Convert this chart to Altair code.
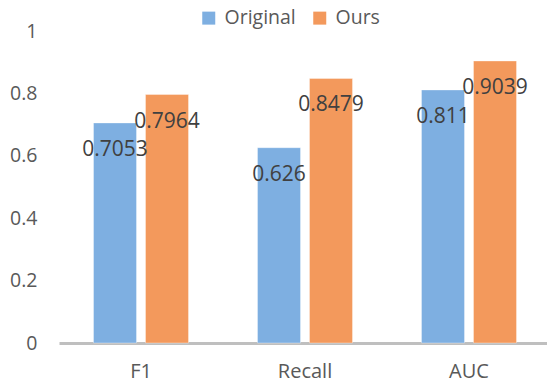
import altair as alt
import pandas as pd

# Scores per metric for the two methods
metrics = ["F1", "Recall", "AUC"]
series = ["Original", "Ours"]
original = [0.7053, 0.626, 0.811]
ours = [0.7964, 0.8479, 0.9039]
original_labels = ["0.7053", "0.626", "0.811"]
ours_labels = ["0.7964", "0.8479", "0.9039"]
y_ticks = [0, 0.2, 0.4, 0.6, 0.8, 1]

rows = []
for m, v, lab in zip(metrics, original, original_labels):
    rows.append({"metric": m, "series": "Original", "value": v, "label": lab})
for m, v, lab in zip(metrics, ours, ours_labels):
    rows.append({"metric": m, "series": "Ours", "value": v, "label": lab})
df = pd.DataFrame(rows)

FONT = "Open Sans"
BLUE = "#7eafe1"
ORANGE = "#f3995c"

base = alt.Chart(df).encode(
    x=alt.X(
        "metric:N",
        sort=metrics,
        scale=alt.Scale(range=[0, 492], paddingInner=0.4207, paddingOuter=0.2104),
        axis=alt.Axis(
            title=None,
            labelAngle=0,
            ticks=False,
            domainColor="#bfbfbf",
            domainWidth=3,
            labelFont=FONT,
            labelFontSize=20,
            labelColor="#595959",
            labelPadding=18,
        ),
    ),
    xOffset=alt.XOffset(
        "series:N",
        sort=series,
        scale=alt.Scale(paddingInner=0.173, paddingOuter=0),
    ),
    y=alt.Y(
        "value:Q",
        scale=alt.Scale(domain=[0, 1], nice=False),
        axis=alt.Axis(
            title=None,
            values=y_ticks,
            format="~g",
            domain=False,
            ticks=False,
            grid=False,
            labelFont=FONT,
            labelFontSize=19.5,
            labelColor="#595959",
            labelPadding=22,
        ),
    ),
)

bars = base.mark_bar(strokeWidth=1, stroke="#ffffff", strokeOpacity=0.35).encode(
    color=alt.Color(
        "series:N",
        sort=series,
        scale=alt.Scale(domain=series, range=[BLUE, ORANGE]),
        legend=alt.Legend(
            title=None,
            orient="none",
            direction="horizontal",
            legendX=140,
            legendY=-23,
            symbolType="square",
            symbolSize=169,
            symbolStrokeWidth=0,
            labelFont=FONT,
            labelFontSize=19.5,
            labelColor="#595959",
            labelOffset=6,
            columnPadding=14,
        ),
    )
)

labels = base.mark_text(
    baseline="middle", dy=27, font=FONT, fontSize=21, color="#404040"
).encode(text="label:N")

chart = (
    alt.layer(bars, labels)
    .properties(
        width=488,
        height=312,
        autosize=alt.AutoSizeParams(type="none"),
        padding={"left": 59, "top": 31, "right": 0, "bottom": 41},
    )
    .configure_view(stroke=None)
)

chart.save("out.html", embed_options={"renderer": "svg", "actions": False})
